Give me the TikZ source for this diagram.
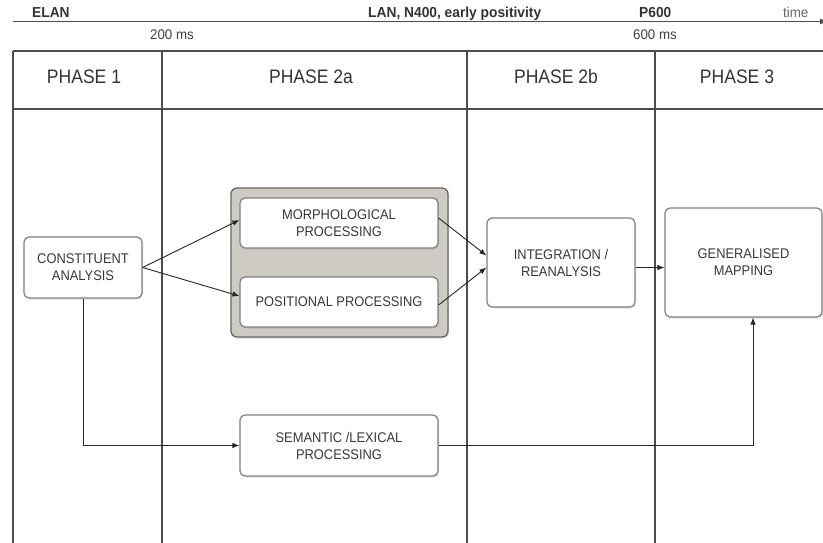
\documentclass[tikz,border=0pt]{standalone}
\usepackage{fontspec}
\setmainfont{Liberation Sans}
\newfontfamily\narrowsans[FakeStretch=0.92]{Liberation Sans}
\newfontfamily\phasesans[FakeStretch=0.9]{Liberation Sans}
\newfontfamily\topsans[FakeStretch=0.95]{Liberation Sans}
\usetikzlibrary{arrows.meta,shadows}
\definecolor{groupfill}{HTML}{CDCBC4}
\begin{document}
\begin{tikzpicture}[x=1pt,y=-1pt,
  gridline/.style={draw=black!70, line width=1.1pt},
  box/.style={draw=black!50, line width=1.2pt, rounded corners=5pt, fill=white,
    align=center, inner sep=0pt, font=\narrowsans\fontsize{14}{17}\selectfont, text=black!78,
    drop shadow={shadow xshift=1pt, shadow yshift=-1.5pt, opacity=0.25}},
  groupbox/.style={draw=black!60, line width=1.3pt, rounded corners=6pt, fill=groupfill,
    inner sep=0pt, drop shadow={shadow xshift=1pt, shadow yshift=-1.5pt, opacity=0.25}},
  conn/.style={draw=black!85, line width=0.9pt, -{Latex[length=7pt,width=5.5pt]}},
  phase/.style={font=\phasesans\fontsize{19.5}{22}\selectfont, text=black!80},
  toplab/.style={font=\topsans\fontsize{14.5}{16}\selectfont\bfseries, text=black!80, inner sep=0pt},
  msl/.style={font=\topsans\fontsize{14}{16}\selectfont, text=black!75, inner sep=0pt},
]
\useasboundingbox (0,0) rectangle (823,542);
% time line
\coordinate (t0) at (13,21.5);
\coordinate (t1) at (828,21.5);
\draw[draw=black!70, line width=1.1pt, -{Latex[length=8pt,width=6pt]}] (t0) -- (t1);
\node[toplab, anchor=base west] (elan) at (32,17.5) {ELAN};
\node[toplab, anchor=base west] (lan) at (368,17.5) {LAN, N400, early positivity};
\node[toplab, anchor=base west] (p600) at (639,17.5) {P600};
\node[msl, anchor=base west, text=black!60] (time) at (783,17.5) {time};
\node[msl, anchor=base west] (ms200) at (150,39) {200 ms};
\node[msl, anchor=base west] (ms600) at (633,39) {600 ms};
% table
\draw[gridline] (13,51) -- (830,51);
\draw[gridline] (13,109) -- (830,109);
\foreach \xx in {13,162,467,655} \draw[gridline] (\xx,51) -- (\xx,548);
\node[phase] (ph1) at (84,77) {PHASE 1};
\node[phase] (ph2a) at (311,77) {PHASE 2a};
\node[phase] (ph2b) at (556,77) {PHASE 2b};
\node[phase] (ph3) at (737,77) {PHASE 3};
% boxes
\node[box, minimum width=118pt, minimum height=61pt] (ca) at (83,267.5) {CONSTITUENT\\ANALYSIS};
\node[groupbox, minimum width=217pt, minimum height=149pt] (grp) at (339.5,262.5) {};
\node[box, minimum width=198pt, minimum height=50pt] (morph) at (339,223) {MORPHOLOGICAL\\PROCESSING};
\node[box, minimum width=198pt, minimum height=50pt] (pos) at (339,302) {POSITIONAL PROCESSING};
\node[box, minimum width=148pt, minimum height=89pt] (integ) at (561,262.5) {INTEGRATION /\\REANALYSIS};
\node[box, minimum width=157pt, minimum height=109pt] (gen) at (743.5,262.5) {GENERALISED\\MAPPING};
\node[box, minimum width=198pt, minimum height=61pt] (sem) at (339,445.5) {SEMANTIC /LEXICAL\\PROCESSING};
% connectors
\draw[conn] (ca.east) -- ([yshift=3pt]morph.west);
\draw[conn] (ca.east) -- ([yshift=6pt]pos.west);
\draw[conn] ([yshift=5pt]morph.east) -- ([yshift=7pt]integ.west);
\draw[conn] ([yshift=-3pt]pos.east) -- ([yshift=-5pt]integ.west);
\draw[conn] ([yshift=-5pt]integ.east) -- ([yshift=-5pt]gen.west);
\draw[conn] (ca.south) |- (sem.west);
\draw[conn] (sem.east) -| ([xshift=9.5pt]gen.south);
\end{tikzpicture}
\end{document}
